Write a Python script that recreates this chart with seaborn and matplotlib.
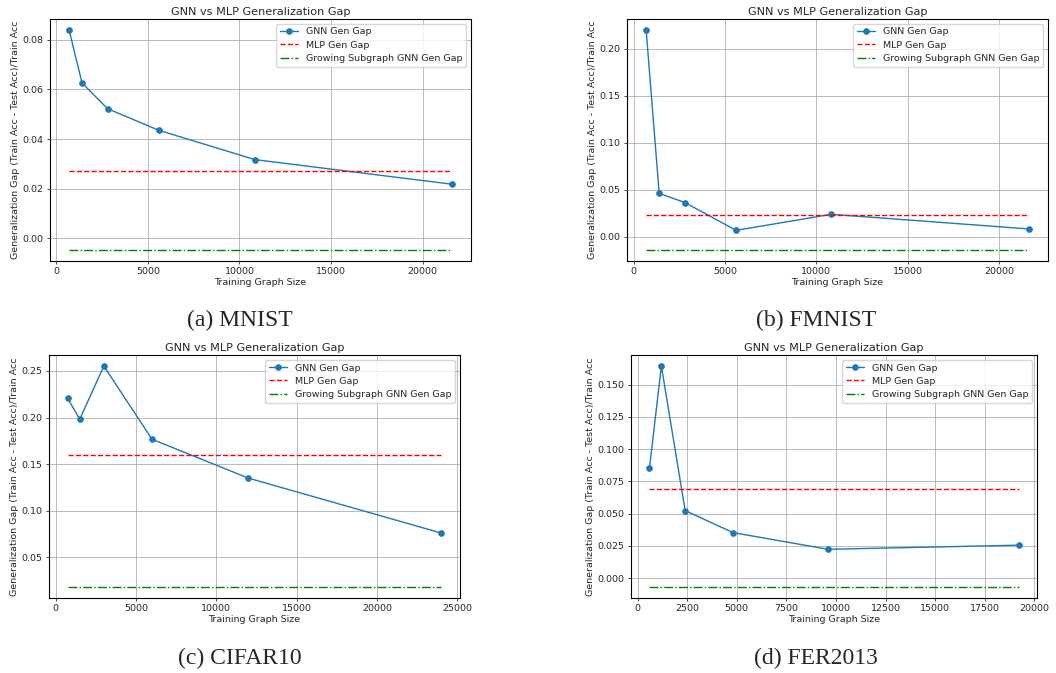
import numpy as np
import matplotlib
matplotlib.use("Agg")
import matplotlib.pyplot as plt
import seaborn as sns

# Values
mnist_sizes = [700, 1400, 2800, 5600, 10850, 21600]
mnist_gnn = [0.0839, 0.0626, 0.0522, 0.0435, 0.0317, 0.0218]
mnist_mlp = 0.0270
mnist_grow = -0.0047

fmnist_sizes = [675, 1390, 2810, 5600, 10820, 21640]
fmnist_gnn = [0.2199, 0.0461, 0.0362, 0.0067, 0.0238, 0.0082]
fmnist_mlp = 0.0227
fmnist_grow = -0.0142

cifar_sizes = [750, 1500, 3000, 6000, 12000, 24000]
cifar_gnn = [0.2205, 0.1982, 0.2553, 0.1766, 0.1349, 0.0759]
cifar_mlp = 0.1594
cifar_grow = 0.0180

fer_sizes = [600, 1200, 2400, 4800, 9600, 19200]
fer_gnn = [0.0852, 0.1645, 0.0524, 0.0354, 0.0224, 0.0256]
fer_mlp = 0.0690
fer_grow = -0.0068

captions = ["(a) MNIST", "(b) FMNIST", "(c) CIFAR10", "(d) FER2013"]

sns.set_style("ticks")
plt.rcParams["font.family"] = ["DejaVu Sans"]

W, H = 1056, 673
fig = plt.figure(figsize=(W / 100, H / 100), dpi=100)

# axes boxes in pixels: left, top, right, bottom
boxes = [(50, 19, 471, 261), (627, 19, 1048, 261),
         (49, 355, 460, 598), (631, 355, 1037, 598)]
caption_pos = [(240, 320), (816, 320), (240, 658), (816, 658)]

panels = [
    (mnist_sizes, mnist_gnn, mnist_mlp, mnist_grow),
    (fmnist_sizes, fmnist_gnn, fmnist_mlp, fmnist_grow),
    (cifar_sizes, cifar_gnn, cifar_mlp, cifar_grow),
    (fer_sizes, fer_gnn, fer_mlp, fer_grow),
]

fs = 6.8
for (sizes, gnn, mlp, grow), (l, t, r, b), cap, (cx, cy) in zip(panels, boxes, captions, caption_pos):
    ax = fig.add_axes([l / W, 1 - b / H, (r - l) / W, (b - t) / H])
    sizes = np.array(sizes)
    sns.lineplot(x=sizes, y=gnn, ax=ax, color="#1f77b4", marker="o",
                 markersize=4, markeredgecolor="#1f77b4", linewidth=1.0,
                 label="GNN Gen Gap")
    sns.lineplot(x=sizes, y=np.full(len(sizes), mlp), ax=ax, color="red",
                 linestyle="--", linewidth=1.0, label="MLP Gen Gap")
    sns.lineplot(x=sizes, y=np.full(len(sizes), grow), ax=ax, color="green",
                 linestyle="-.", linewidth=1.0, label="Growing Subgraph GNN Gen Gap")
    ax.grid(True, color="#b0b0b0", linewidth=0.6)
    ax.set_title("GNN vs MLP Generalization Gap", fontsize=8.1, pad=3)
    ax.set_xlabel("Training Graph Size", fontsize=fs, labelpad=1)
    ax.set_ylabel("Generalization Gap (Train Acc - Test Acc)/Train Acc", fontsize=fs, labelpad=2)
    ax.tick_params(labelsize=fs, length=2.5, width=0.6, pad=2)
    for s in ax.spines.values():
        s.set_linewidth(0.8)
        s.set_color("black")
    ax.legend(loc="upper right", fontsize=fs, frameon=True, framealpha=0.8,
              edgecolor="#cccccc", fancybox=True, handlelength=2.0, borderpad=0.4,
              labelspacing=0.45)
    fig.text(cx / W, 1 - cy / H, cap, ha="center", va="center",
             fontsize=17, family=["Liberation Serif", "DejaVu Serif"])

fig.savefig("out.png", dpi=100)
